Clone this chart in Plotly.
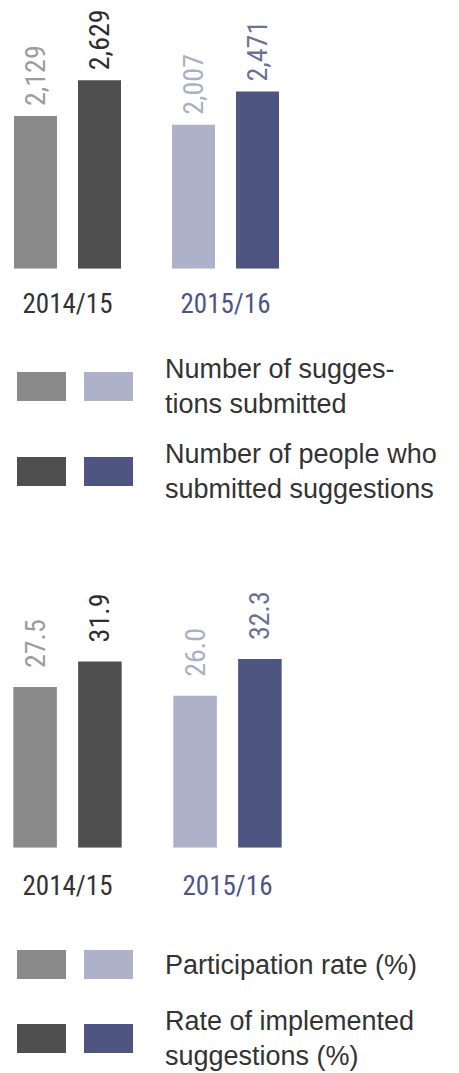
import plotly.graph_objects as go

W, H = 459, 1073

years = ["2014/15", "2015/16"]
year_colors = ["#333333", "#4d5584"]

# chart 1: suggestions
suggestions = [2129, 2007]
people = [2629, 2471]
# chart 2: rates (%)
participation = [27.5, 26.0]
implemented = [31.9, 32.3]

light_cols = ["#8a8a8a", "#adb2c8"]
dark_cols = ["#4f4f4f", "#4d5580"]
light_text = ["#9c9c9c", "#a9afc6"]
dark_text = ["#2e2e2e", "#6a7298"]

legend1 = ["Number of sugges-<br>tions submitted", "Number of people who<br>submitted suggestions"]
legend2 = ["Participation rate (%)", "Rate of implemented<br>suggestions (%)"]

NARROW = "Liberation Sans Narrow, Arial Narrow, Roboto Condensed, sans-serif"
SANS = "Liberation Sans, Arial, Helvetica, sans-serif"


def py(y):
    # pixel row -> paper coordinate
    return 1 - y / H


def px(x):
    return x / W


fig = go.Figure()

for ax, a, b in [("", suggestions, people), ("2", participation, implemented)]:
    fig.add_trace(go.Bar(x=years, y=a, marker_color=light_cols, marker_line_width=0,
                         xaxis="x" + ax, yaxis="y" + ax, showlegend=False, hoverinfo="skip"))
    fig.add_trace(go.Bar(x=years, y=b, marker_color=dark_cols, marker_line_width=0,
                         xaxis="x" + ax, yaxis="y" + ax, showlegend=False, hoverinfo="skip"))

annotations = []


def value_labels(ax, vals, cols, shift, fmt, ysh):
    for yr, v, c in zip(years, vals, cols):
        annotations.append(dict(
            x=yr, y=v, xref="x" + ax, yref="y" + ax, text=fmt.format(v),
            textangle=-90, showarrow=False, xanchor="center", yanchor="bottom",
            xshift=shift, yshift=ysh, font=dict(family=NARROW, size=28, color=c)))


value_labels("", suggestions, light_text, -32, "{:,}", 8)
value_labels("", people, dark_text, 32, "{:,}", 8)
value_labels("2", participation, light_text, -32, "{:.1f}", 17)
value_labels("2", implemented, dark_text, 32, "{:.1f}", 17)

# legends (swatch pairs + labels)
shapes = []


def legend_block(rows, labels):
    for i, ((top, bot), lab) in enumerate(zip(rows, labels)):
        cols = [light_cols, dark_cols][i]
        for (x0, x1), c in zip([(17, 66), (84, 133)], cols):
            shapes.append(dict(type="rect", xref="paper", yref="paper",
                               x0=px(x0), x1=px(x1), y0=py(bot), y1=py(top),
                               fillcolor=c, line_width=0))
        annotations.append(dict(
            x=px(163), y=py((top + bot) / 2), xref="paper", yref="paper", text=lab,
            showarrow=False, xanchor="left", yanchor="middle", align="left",
            font=dict(family=SANS, size=27, color="#333333")))


legend_block([(372, 401), (457, 486)], legend1)
legend_block([(950, 979), (1024, 1053)], legend2)

ticktext = ["<span style='color:%s'>%s</span>" % (c, y) for y, c in zip(years, year_colors)]
xcommon = dict(domain=[0, 1], tickvals=years, ticktext=ticktext, showgrid=False,
               zeroline=False, showline=False, ticks="", fixedrange=True,
               tickfont=dict(family=NARROW, size=27, color="#333333"))
ycommon = dict(showgrid=False, zeroline=False, showline=False, showticklabels=False,
               ticks="", fixedrange=True)

fig.update_layout(
    width=W, height=H,
    margin=dict(l=0, r=0, t=0, b=0),
    paper_bgcolor="white", plot_bgcolor="rgba(0,0,0,0)",
    barmode="group", bargap=0.19, bargroupgap=0.328,
    xaxis=dict(xcommon, anchor="y", range=[-67.5 / 158, -67.5 / 158 + W / 158],
               ticklabelstandoff=16),
    yaxis=dict(ycommon, anchor="x", domain=[py(268.7), 1], range=[0, 268.7 / 0.0717]),
    xaxis2=dict(xcommon, anchor="y2", range=[-67.5 / 160, -67.5 / 160 + W / 160],
                ticklabelstandoff=19),
    yaxis2=dict(ycommon, anchor="x2", domain=[py(847.7), py(600)], range=[0, 247.7 / 5.84]),
    annotations=annotations,
    shapes=shapes,
)

fig.write_html("out.html", config={"displayModeBar": False},
               post_script="document.body.style.margin='0';")
